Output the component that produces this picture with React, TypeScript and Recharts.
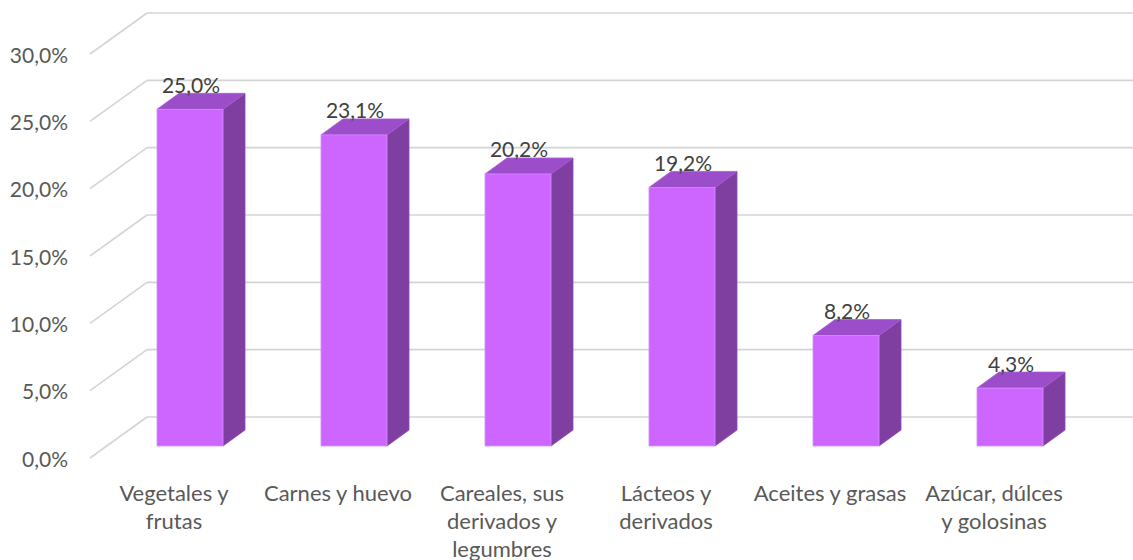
import React from "react";
import {
  BarChart,
  Bar,
  XAxis,
  YAxis,
  CartesianGrid,
  LabelList,
} from "recharts";

const categories = [
  "Vegetales y\nfrutas",
  "Carnes y huevo",
  "Careales, sus\nderivados y\nlegumbres",
  "Lácteos y\nderivados",
  "Aceites y grasas",
  "Azúcar, dúlces\ny golosinas",
];
const values = [25.0, 23.1, 20.2, 19.2, 8.2, 4.3];
const yTicks = [0, 5, 10, 15, 20, 25, 30];

const data = categories.map((name, i) => ({ name, value: values[i] }));

const FONT = "Lato, 'Open Sans', sans-serif";
const DEPTH_X = 22;
const DEPTH_Y = 16;

const fmt = (v: number) => v.toFixed(1).replace(".", ",") + "%";

// 3D box bar (front face, right side, top)
const Box3D = (props: any) => {
  const { x, y, width, height } = props;
  if (height <= 0) return null;
  const r = x + width;
  const b = y + height;
  return (
    <g>
      <polygon
        points={`${r},${y} ${r + DEPTH_X},${y - DEPTH_Y} ${r + DEPTH_X},${b - DEPTH_Y} ${r},${b}`}
        fill="#7f3fa0"
        stroke="#8a48ad"
        strokeWidth={0.8}
      />
      <polygon
        points={`${x},${y} ${x + DEPTH_X},${y - DEPTH_Y} ${r + DEPTH_X},${y - DEPTH_Y} ${r},${y}`}
        fill="#9b4dca"
        stroke="#a85bd6"
        strokeWidth={0.8}
      />
      <rect x={x} y={y} width={width} height={height} fill="#cc66ff" stroke="#d68cff" strokeWidth={0.8} />
    </g>
  );
};

// grid line: diagonal along the side wall, then horizontal along back wall
const GridLine = (props: any) => {
  const { x1, x2, y1 } = props;
  const frontX = x1 - 18;
  const frontY = y1 + 12;
  const backX = x1 + 39;
  const backY = y1 - 29;
  return (
    <g>
      <line x1={frontX} y1={frontY} x2={backX} y2={backY} stroke="#d4d4d4" strokeWidth={1.6} />
      <line x1={backX} y1={backY} x2={x2 + 41} y2={backY} stroke="#d4d4d4" strokeWidth={1.6} />
    </g>
  );
};

const YTick = (props: any) => {
  const { y, payload } = props;
  return (
    <text
      x={68}
      y={y + 12}
      textAnchor="end"
      dominantBaseline="central"
      fontFamily={FONT}
      fontSize={21}
      fill="#595959"
    >
      {fmt(payload.value)}
    </text>
  );
};

const XTick = (props: any) => {
  const { x, y, payload } = props;
  const lines = String(payload.value).split("\n");
  return (
    <text x={x - 16} y={y} textAnchor="middle" fontFamily={FONT} fontSize={22} fill="#595959">
      {lines.map((ln, i) => (
        <tspan key={i} x={x - 16} y={y + 47 + i * 28}>
          {ln}
        </tspan>
      ))}
    </text>
  );
};

const ValueLabel = (props: any) => {
  const { x, y, width, value } = props;
  return (
    <text
      x={x + width / 2 + 1}
      y={y - 25}
      textAnchor="middle"
      dominantBaseline="central"
      fontFamily={FONT}
      fontSize={21}
      fill="#404040"
    >
      {fmt(value)}
    </text>
  );
};

export default function App() {
  return (
    <div style={{ position: "fixed", left: 0, top: 0, width: 1133, height: 560, background: "#fff" }}>
      <BarChart
        width={1133}
        height={560}
        data={data}
        margin={{ top: 42, right: 41, left: 8, bottom: 0 }}
      >
        <CartesianGrid vertical={false} horizontal={GridLine} />
        <XAxis
          dataKey="name"
          axisLine={false}
          tickLine={false}
          interval={0}
          height={114}
          tick={XTick}
        />
        <YAxis
          type="number"
          domain={[0, 30]}
          ticks={yTicks}
          width={100}
          axisLine={false}
          tickLine={false}
          tick={YTick}
        />
        <Bar dataKey="value" barSize={66} shape={Box3D} isAnimationActive={false}>
          <LabelList dataKey="value" content={ValueLabel} />
        </Bar>
      </BarChart>
    </div>
  );
}
